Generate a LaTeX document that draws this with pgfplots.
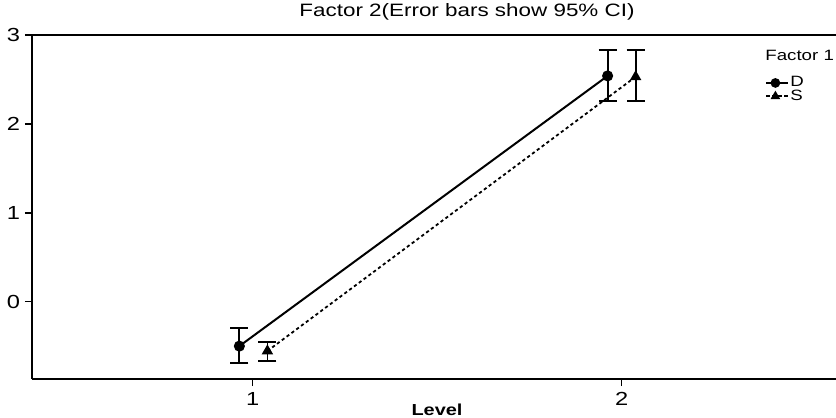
\documentclass[border=0pt]{standalone}
\usepackage{fontspec}
\setmainfont{Liberation Sans}[FakeStretch=1.25]
\usepackage{pgfplots}
\pgfplotsset{compat=1.18}
\begin{document}
\begin{tikzpicture}
\path[use as bounding box] (-16bp,-19.5bp) rectangle (402bp,189.5bp);
\begin{axis}[
  at={(0,0)}, anchor=south west,
  scale only axis, width=402bp, height=172bp,
  xmin=0.402, xmax=2.581, ymin=-0.87, ymax=3,
  axis y line=left, axis x line=box,
  axis line style={-, line width=1bp},
  xtick={1,2}, ytick={0,1,2,3},
  xtick pos=left, ytick pos=left,
  tick align=outside, major tick length=3.5bp,
  tick style={black, line width=0.8bp},
  /pgf/number format/assume math mode=true,
  tick label style={font=\fontsize{9.5}{10}\selectfont},
  yticklabel style={xshift=1bp},
  xticklabel style={yshift=0.5bp},
  legend style={at={(0.9117,0.884)}, anchor=north west, draw=none, fill=none,
    font=\fontsize{7.5}{8}\selectfont, row sep=-1bp, inner sep=0pt,
    nodes={inner sep=0.5bp},
    /tikz/every even column/.append style={column sep=0pt}},
  legend cell align=left,
  legend image code/.code={\draw[mark repeat=2, mark phase=2, mark size=1.9bp, #1]
    plot coordinates {(0bp,0bp) (4.5bp,0bp) (11bp,0bp)};},
]
\addplot[black, line width=1bp, mark=*, mark size=2.25bp,
  error bars/.cd, y dir=both, y explicit,
  error bar style={line width=0.9bp, solid},
  error mark options={rotate=90, mark size=4.5bp, line width=0.9bp}]
  coordinates {
  (0.964,-0.50) += (0,0.20) -= (0,0.19)
  (1.962,2.54) += (0,0.29) -= (0,0.28)
};
\addlegendentry{D}
\addplot[black, line width=0.9bp, dash pattern=on 1.6bp off 1.4bp,
  mark=triangle*, mark size=2.4bp, mark options={solid},
  error bars/.cd, y dir=both, y explicit,
  error bar style={line width=0.9bp, solid},
  error mark options={rotate=90, mark size=4.5bp, line width=0.9bp, solid}]
  coordinates {
  (1.040,-0.555) += (0,0.105) -= (0,0.115)
  (2.038,2.53) += (0,0.30) -= (0,0.27)
};
\addlegendentry{S}
\end{axis}
\node[font=\fontsize{9}{10}\selectfont] at (217.5bp,183.5bp) {Factor 2(Error bars show 95\% CI)};
\node[font=\fontsize{7.5}{8}\selectfont, anchor=west, inner sep=0pt] at (366.5bp,162bp) {Factor 1};
\node[font=\fontsize{8}{9}\selectfont\bfseries, inner sep=1pt] at (202.5bp,-15.6bp) {Level};
\end{tikzpicture}
\end{document}
